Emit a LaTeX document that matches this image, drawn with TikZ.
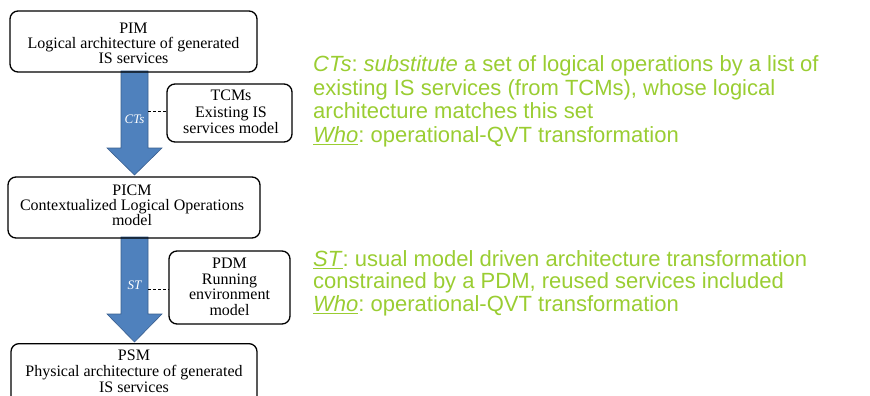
\documentclass[tikz,border=0pt]{standalone}
\usepackage{fontspec}
\setmainfont{Liberation Serif}
\newfontfamily\notefont{Liberation Sans}
\definecolor{arrowblue}{HTML}{4F81BD}
\definecolor{arrowedge}{HTML}{3A5F8F}
\definecolor{notegreen}{HTML}{9ACD32}
% allow tight leading without extra \lineskip
\lineskiplimit=-20pt
\newcommand{\modelfont}[1]{\fontsize{16}{#1}\selectfont}
\newcommand{\notesize}[1]{\fontsize{22}{#1}\selectfont\notefont\frenchspacing}
\tikzset{
  modelbox/.style={draw=black, line width=1.3pt, rounded corners=8pt, inner sep=0pt},
  modeltext/.style={align=center, anchor=north, inner sep=0pt},
  bigarrow/.style={fill=arrowblue, draw=arrowedge, line width=0.6pt},
  arrowlabel/.style={text=white, inner sep=0pt, font=\fontsize{13}{14}\selectfont\itshape},
  link/.style={line width=0.7pt, dash pattern=on 3pt off 2pt},
  note/.style={text=notegreen, align=left, anchor=north west, inner sep=0pt},
}
\newcommand{\ul}[1]{\underline{#1}}
\begin{document}
\begin{tikzpicture}[x=1pt,y=-1pt]
\useasboundingbox (0,0) rectangle (870,396);
% transformation arrows
\path[bigarrow] (121,71) -- (148,71) -- (148,148) -- (162,148) -- (134.5,175)
  -- (107,148) -- (121,148) -- cycle;
\path[bigarrow] (121,237) -- (148,237) -- (148,314) -- (162,314) -- (134.5,342)
  -- (107,314) -- (121,314) -- cycle;
\node[arrowlabel] (ct) at (134.5,119) {CTs};
\node[arrowlabel] (st) at (134.5,285) {ST};
% model boxes
\node[modelbox, minimum width=247pt, minimum height=61pt] (pim) at (133.5,41.5) {};
\node[modeltext, font=\modelfont{15}] (pimtext) at (133.5,22.8)
  {PIM\\Logical architecture of generated\\IS services};
\node[modelbox, minimum width=252pt, minimum height=61pt] (picm) at (134,207.5) {};
\node[modeltext, font=\modelfont{15}] (picmtext) at (132,184.5)
  {PICM\\Contextualized Logical Operations\\model};
\node[modelbox, minimum width=246pt, minimum height=61pt, anchor=north] (psm) at (134,343) {};
\node[modeltext, font=\modelfont{16.2}] (psmtext) at (134,349.8)
  {PSM\\Physical architecture of generated\\IS services};
\node[modelbox, minimum width=125pt, minimum height=58pt] (tcm) at (229.5,113) {};
\node[modeltext, font=\modelfont{16.3}] (tcmtext) at (231,90.2)
  {TCMs\\Existing IS\\services model};
\node[modelbox, minimum width=121pt, minimum height=73pt] (pdm) at (229.5,287.5) {};
\node[modeltext, font=\modelfont{15.6}] (pdmtext) at (229.5,257.8)
  {PDM\\Running\\environment\\model};
% dashed links from the arrows to the source models
\coordinate (ctedge) at (148,111);
\coordinate (stedge) at (148,289);
\draw[link] (ctedge) -- (tcm.west |- ctedge);
\draw[link] (stedge) -- (pdm.west |- stedge);
% explanatory notes
\node[note, font=\notesize{23.6}] (ctnote) at (313,55.3)
  {\textit{CTs}: \textit{substitute} a set of logical operations by a list of\\
   existing IS services (from TCMs), whose logical\\
   architecture matches this set\\
   \ul{\textit{Who}}: operational-QVT transformation};
\node[note, font=\notesize{22.8}] (stnote) at (313,250)
  {\ul{\textit{ST}}: usual model driven architecture transformation\\
   constrained by a PDM, reused services included\\
   \ul{\textit{Who}}: operational-QVT transformation};
\end{tikzpicture}
\end{document}
